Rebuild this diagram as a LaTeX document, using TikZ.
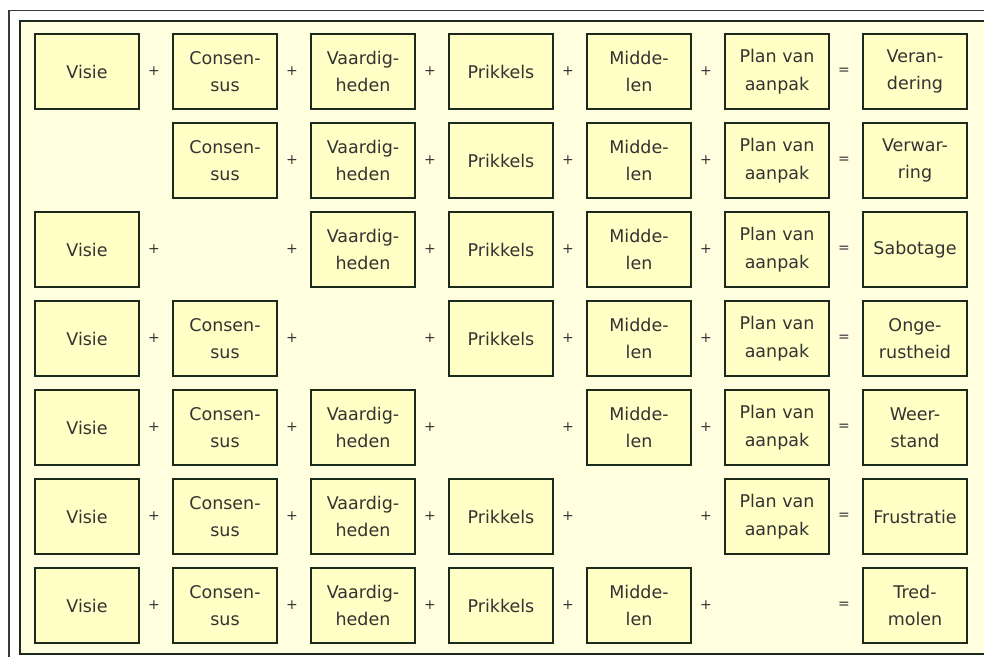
\documentclass[tikz,border=0pt]{standalone}
\usepackage{fontspec}
\setmainfont{DejaVu Sans}
\definecolor{bgyel}{HTML}{FFFFE0}
\definecolor{boxyel}{HTML}{FFFFC6}
\definecolor{edge}{HTML}{1C2A1C}
\definecolor{txt}{HTML}{333333}
\tikzset{
  bx/.style={draw=edge, line width=2pt, fill=boxyel, minimum width=104pt, minimum height=75pt,
    inner sep=0pt, align=center, text=txt, font=\fontsize{17.5}{27.5}\selectfont},
  op/.style={text=txt, inner sep=0pt, font=\fontsize{14}{16}\selectfont},
}
\begin{document}
\begin{tikzpicture}[x=1pt,y=-1pt]
\useasboundingbox (0,0) rectangle (984,656);
\clip (0,0) rectangle (984,656);
\fill[white] (0,0) rectangle (984,656);
\draw[draw=edge!90!white, line width=1.6pt] (9,10.5) rectangle (1010,700);
\draw[draw=edge, line width=2pt, fill=bgyel] (20,21) rectangle (1000,653.5);
% row 1
\node[bx] (b11) at (87,71.5) {Visie};
\node[op] (p11) at (154,71.5) {+};
\node[bx] (b12) at (225,71.5) {Consen-\\sus};
\node[op] (p12) at (292,71.5) {+};
\node[bx] (b13) at (363,71.5) {Vaardig-\\heden};
\node[op] (p13) at (430,71.5) {+};
\node[bx] (b14) at (501,71.5) {Prikkels};
\node[op] (p14) at (568,71.5) {+};
\node[bx] (b15) at (639,71.5) {Midde-\\len};
\node[op] (p15) at (706,71.5) {+};
\node[bx] (b16) at (777,71.5) {Plan van\\aanpak};
\node[op] (e1) at (844,71.5) {=};
\node[bx] (b17) at (915,71.5) {Veran-\\dering};
% row 2
\node[bx] (b22) at (225,160.5) {Consen-\\sus};
\node[op] (p22) at (292,160.5) {+};
\node[bx] (b23) at (363,160.5) {Vaardig-\\heden};
\node[op] (p23) at (430,160.5) {+};
\node[bx] (b24) at (501,160.5) {Prikkels};
\node[op] (p24) at (568,160.5) {+};
\node[bx] (b25) at (639,160.5) {Midde-\\len};
\node[op] (p25) at (706,160.5) {+};
\node[bx] (b26) at (777,160.5) {Plan van\\aanpak};
\node[op] (e2) at (844,160.5) {=};
\node[bx] (b27) at (915,160.5) {Verwar-\\ring};
% row 3
\node[bx] (b31) at (87,249.5) {Visie};
\node[op] (p31) at (154,249.5) {+};
\node[op] (p32) at (292,249.5) {+};
\node[bx] (b33) at (363,249.5) {Vaardig-\\heden};
\node[op] (p33) at (430,249.5) {+};
\node[bx] (b34) at (501,249.5) {Prikkels};
\node[op] (p34) at (568,249.5) {+};
\node[bx] (b35) at (639,249.5) {Midde-\\len};
\node[op] (p35) at (706,249.5) {+};
\node[bx] (b36) at (777,249.5) {Plan van\\aanpak};
\node[op] (e3) at (844,249.5) {=};
\node[bx] (b37) at (915,249.5) {Sabotage};
% row 4
\node[bx] (b41) at (87,338.5) {Visie};
\node[op] (p41) at (154,338.5) {+};
\node[bx] (b42) at (225,338.5) {Consen-\\sus};
\node[op] (p42) at (292,338.5) {+};
\node[op] (p43) at (430,338.5) {+};
\node[bx] (b44) at (501,338.5) {Prikkels};
\node[op] (p44) at (568,338.5) {+};
\node[bx] (b45) at (639,338.5) {Midde-\\len};
\node[op] (p45) at (706,338.5) {+};
\node[bx] (b46) at (777,338.5) {Plan van\\aanpak};
\node[op] (e4) at (844,338.5) {=};
\node[bx] (b47) at (915,338.5) {Onge-\\rustheid};
% row 5
\node[bx] (b51) at (87,427.5) {Visie};
\node[op] (p51) at (154,427.5) {+};
\node[bx] (b52) at (225,427.5) {Consen-\\sus};
\node[op] (p52) at (292,427.5) {+};
\node[bx] (b53) at (363,427.5) {Vaardig-\\heden};
\node[op] (p53) at (430,427.5) {+};
\node[op] (p54) at (568,427.5) {+};
\node[bx] (b55) at (639,427.5) {Midde-\\len};
\node[op] (p55) at (706,427.5) {+};
\node[bx] (b56) at (777,427.5) {Plan van\\aanpak};
\node[op] (e5) at (844,427.5) {=};
\node[bx] (b57) at (915,427.5) {Weer-\\stand};
% row 6
\node[bx] (b61) at (87,516.5) {Visie};
\node[op] (p61) at (154,516.5) {+};
\node[bx] (b62) at (225,516.5) {Consen-\\sus};
\node[op] (p62) at (292,516.5) {+};
\node[bx] (b63) at (363,516.5) {Vaardig-\\heden};
\node[op] (p63) at (430,516.5) {+};
\node[bx] (b64) at (501,516.5) {Prikkels};
\node[op] (p64) at (568,516.5) {+};
\node[op] (p65) at (706,516.5) {+};
\node[bx] (b66) at (777,516.5) {Plan van\\aanpak};
\node[op] (e6) at (844,516.5) {=};
\node[bx] (b67) at (915,516.5) {Frustratie};
% row 7
\node[bx] (b71) at (87,605.5) {Visie};
\node[op] (p71) at (154,605.5) {+};
\node[bx] (b72) at (225,605.5) {Consen-\\sus};
\node[op] (p72) at (292,605.5) {+};
\node[bx] (b73) at (363,605.5) {Vaardig-\\heden};
\node[op] (p73) at (430,605.5) {+};
\node[bx] (b74) at (501,605.5) {Prikkels};
\node[op] (p74) at (568,605.5) {+};
\node[bx] (b75) at (639,605.5) {Midde-\\len};
\node[op] (p75) at (706,605.5) {+};
\node[op] (e7) at (844,605.5) {=};
\node[bx] (b77) at (915,605.5) {Tred-\\molen};
\end{tikzpicture}
\end{document}
